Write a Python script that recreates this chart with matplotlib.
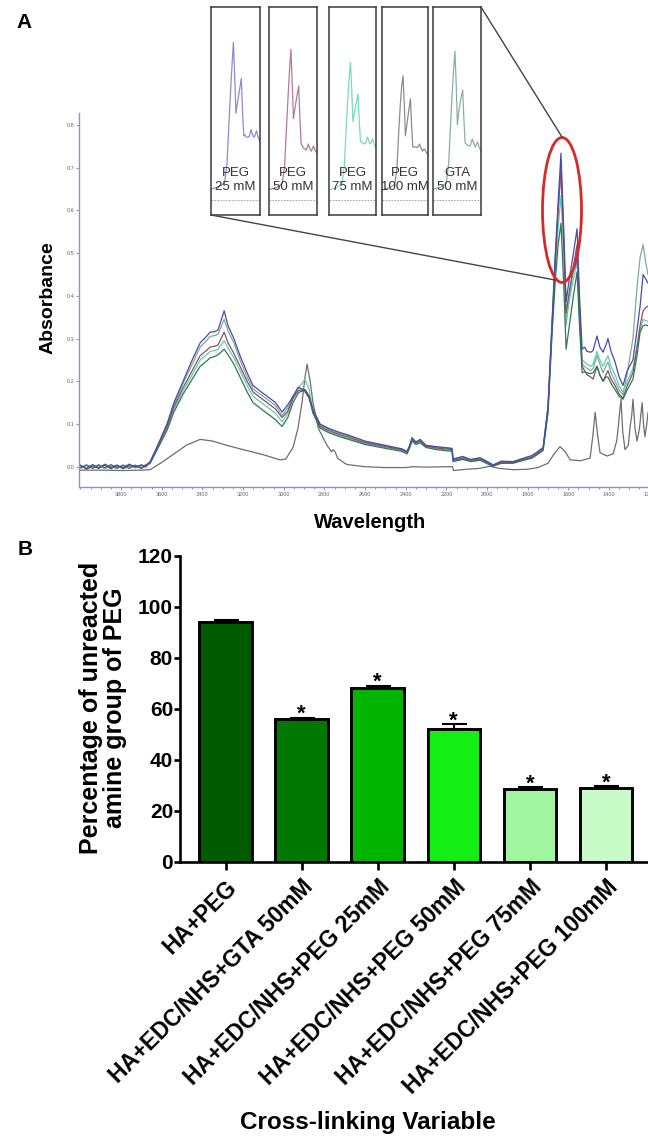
import numpy as np
import matplotlib.pyplot as plt
from matplotlib.patches import Ellipse
from matplotlib.lines import Line2D
from matplotlib.ticker import MultipleLocator, FormatStrFormatter

plt.rcParams['font.family'] = ['Liberation Sans', 'DejaVu Sans']

# ---- panel A: FTIR spectra ----
wn = [4000, 3970, 3940, 3910, 3880, 3850, 3820, 3790, 3760, 3730, 3700, 3680, 3657,
      3620, 3574, 3540, 3495, 3450, 3411, 3380, 3362, 3340, 3323, 3293, 3274, 3245,
      3215, 3180, 3151, 3110, 3082, 3040, 3008, 2980, 2954, 2929, 2910, 2895, 2875,
      2856, 2821, 2780, 2723, 2688, 2600, 2500, 2420, 2393, 2380, 2369, 2350, 2329,
      2300, 2250, 2172, 2167, 2120, 2080, 2034, 1990, 1970, 1930, 1872, 1820, 1780,
      1754, 1724, 1700, 1680, 1665, 1650, 1636, 1622, 1611, 1595, 1575, 1557, 1545,
      1532, 1520, 1508, 1490, 1478, 1459, 1445, 1429, 1415, 1405, 1390, 1370, 1350,
      1331, 1310, 1282, 1262, 1247, 1232, 1220, 1208]

peg25 = [0.002, -0.004, 0.005, -0.003, 0.004, -0.005, 0.003, -0.002, 0.006, -0.001, 0.004, 0.0, 0.012,
         0.05, 0.10, 0.15, 0.20, 0.25, 0.29, 0.305, 0.315, 0.316, 0.32, 0.365, 0.33, 0.30,
         0.26, 0.22, 0.19, 0.175, 0.165, 0.15, 0.128, 0.145, 0.165, 0.186, 0.182, 0.18, 0.165,
         0.134, 0.10, 0.09, 0.08, 0.075, 0.06, 0.05, 0.042, 0.036, 0.05, 0.068, 0.058, 0.064,
         0.05, 0.047, 0.043, 0.018, 0.024, 0.017, 0.021, 0.01, 0.004, 0.013, 0.012, 0.02, 0.026,
         0.034, 0.045, 0.14, 0.34, 0.49, 0.62, 0.734, 0.55, 0.386, 0.44, 0.50, 0.557, 0.40,
         0.275, 0.28, 0.27, 0.268, 0.272, 0.306, 0.28, 0.268, 0.285, 0.30, 0.27, 0.245, 0.21,
         0.19, 0.225, 0.25, 0.32, 0.376, 0.45, 0.44, 0.43]

peg50 = [-0.003, 0.003, -0.004, 0.004, -0.002, 0.005, -0.003, 0.004, -0.004, 0.003, -0.002, 0.004, 0.01,
         0.047, 0.095, 0.14, 0.185, 0.225, 0.26, 0.272, 0.28, 0.282, 0.285, 0.315, 0.29, 0.265,
         0.235, 0.20, 0.175, 0.16, 0.15, 0.135, 0.115, 0.13, 0.16, 0.178, 0.177, 0.175, 0.16,
         0.128, 0.095, 0.085, 0.075, 0.07, 0.056, 0.047, 0.04, 0.034, 0.048, 0.064, 0.056, 0.06,
         0.048, 0.044, 0.04, 0.015, 0.02, 0.015, 0.018, 0.008, 0.003, 0.01, 0.01, 0.017, 0.022,
         0.03, 0.042, 0.135, 0.33, 0.47, 0.60, 0.70, 0.52, 0.36, 0.41, 0.47, 0.52, 0.37,
         0.235, 0.225, 0.215, 0.21, 0.205, 0.235, 0.215, 0.20, 0.215, 0.225, 0.205, 0.19, 0.17,
         0.16, 0.19, 0.22, 0.28, 0.33, 0.365, 0.372, 0.376]

peg75 = [-0.001, 0.005, -0.002, 0.002, -0.005, 0.003, 0.001, -0.004, 0.002, -0.003, 0.005, -0.002, 0.009,
         0.045, 0.09, 0.135, 0.178, 0.215, 0.25, 0.262, 0.27, 0.272, 0.275, 0.295, 0.278, 0.255,
         0.225, 0.19, 0.165, 0.15, 0.14, 0.125, 0.105, 0.125, 0.16, 0.185, 0.195, 0.205, 0.18,
         0.13, 0.093, 0.082, 0.072, 0.067, 0.054, 0.045, 0.038, 0.032, 0.046, 0.062, 0.054, 0.058,
         0.046, 0.042, 0.038, 0.013, 0.018, 0.013, 0.016, 0.006, 0.002, 0.009, 0.009, 0.016, 0.021,
         0.029, 0.04, 0.13, 0.32, 0.45, 0.56, 0.635, 0.49, 0.346, 0.39, 0.44, 0.48, 0.35,
         0.25, 0.245, 0.24, 0.235, 0.24, 0.27, 0.25, 0.235, 0.25, 0.26, 0.235, 0.215, 0.19,
         0.175, 0.20, 0.23, 0.28, 0.32, 0.345, 0.342, 0.34]

peg100 = [0.004, -0.006, 0.002, -0.004, 0.006, -0.002, 0.004, -0.005, 0.003, 0.001, -0.004, 0.003, 0.008,
          0.042, 0.085, 0.128, 0.17, 0.205, 0.235, 0.247, 0.255, 0.258, 0.262, 0.275, 0.262, 0.24,
          0.21, 0.175, 0.15, 0.135, 0.125, 0.11, 0.094, 0.115, 0.15, 0.172, 0.178, 0.18, 0.165,
          0.125, 0.09, 0.08, 0.07, 0.065, 0.052, 0.043, 0.036, 0.03, 0.045, 0.06, 0.052, 0.056,
          0.045, 0.04, 0.036, 0.012, 0.017, 0.012, 0.015, 0.005, 0.001, 0.008, 0.008, 0.015, 0.02,
          0.028, 0.038, 0.125, 0.31, 0.43, 0.52, 0.57, 0.42, 0.275, 0.33, 0.40, 0.456, 0.33,
          0.22, 0.222, 0.22, 0.218, 0.22, 0.235, 0.215, 0.20, 0.21, 0.21, 0.195, 0.18, 0.165,
          0.158, 0.18, 0.205, 0.26, 0.315, 0.33, 0.332, 0.33]

gta50 = [-0.002, 0.004, -0.003, 0.005, -0.004, 0.002, -0.005, 0.003, -0.001, 0.004, -0.003, 0.002, 0.011,
         0.048, 0.098, 0.145, 0.195, 0.24, 0.28, 0.295, 0.305, 0.307, 0.31, 0.345, 0.318, 0.29,
         0.25, 0.21, 0.182, 0.168, 0.158, 0.143, 0.12, 0.138, 0.163, 0.183, 0.18, 0.178, 0.163,
         0.132, 0.098, 0.088, 0.078, 0.073, 0.058, 0.049, 0.041, 0.035, 0.049, 0.066, 0.057, 0.062,
         0.049, 0.046, 0.042, 0.017, 0.023, 0.016, 0.02, 0.009, 0.004, 0.012, 0.011, 0.019, 0.025,
         0.033, 0.044, 0.14, 0.335, 0.48, 0.60, 0.69, 0.51, 0.33, 0.40, 0.46, 0.50, 0.36,
         0.24, 0.235, 0.23, 0.225, 0.23, 0.26, 0.24, 0.22, 0.235, 0.245, 0.22, 0.20, 0.18,
         0.168, 0.22, 0.30, 0.42, 0.49, 0.52, 0.48, 0.45]

ref_wn = [4000, 3900, 3800, 3700, 3657, 3600, 3540, 3480, 3411, 3350, 3280, 3200, 3100, 3018,
          2990, 2954, 2930, 2910, 2895, 2885, 2870, 2856, 2830, 2787, 2765, 2757, 2747, 2735,
          2700, 2688, 2600, 2500, 2400, 2364, 2300, 2200, 2170, 2165, 2100, 2040, 1985, 1940,
          1872, 1800, 1750, 1700, 1670, 1641, 1615, 1591, 1540, 1493, 1480, 1468, 1455, 1444,
          1410, 1380, 1362, 1355, 1341, 1332, 1321, 1305, 1296, 1288, 1282, 1272, 1262, 1250,
          1237, 1230, 1223, 1214, 1208]
ref_abs = [-0.008, -0.008, -0.009, -0.008, -0.007, 0.01, 0.03, 0.05, 0.064, 0.06, 0.05, 0.04, 0.028, 0.016,
           0.018, 0.045, 0.09, 0.15, 0.21, 0.24, 0.20, 0.15, 0.09, 0.05, 0.035, 0.04, 0.035, 0.02,
           0.008, 0.005, 0.0, -0.002, -0.002, 0.0, -0.001, 0.0, 0.0, -0.009, -0.006, -0.004, 0.001, -0.004,
           -0.007, -0.006, -0.002, 0.008, 0.03, 0.047, 0.035, 0.016, 0.014, 0.02, 0.07, 0.127, 0.07, 0.033,
           0.025, 0.03, 0.06, 0.09, 0.158, 0.08, 0.04, 0.05, 0.094, 0.12, 0.158, 0.09, 0.06, 0.09,
           0.15, 0.10, 0.07, 0.10, 0.127]

series = [gta50, peg75, peg50, peg100, peg25]
series_colors = ['#7ea99c', '#5fcfa8', '#8a4c6c', '#2f7a4c', '#4a4aa8']

inset_series = [peg25, peg50, peg75, peg100, gta50]
inset_colors = ['#8c8cd0', '#b07c98', '#7adcb8', '#8c8c8c', '#88b0a6']
inset_labels = ['PEG\n25 mM', 'PEG\n50 mM', 'PEG\n75 mM', 'PEG\n100 mM', 'GTA\n50 mM']
inset_x = [(211, 260), (269, 317), (329, 376), (382, 428), (433, 481)]

# ---- panel B: bar chart ----
bar_labels = ['HA+PEG', 'HA+EDC/NHS+GTA 50mM', 'HA+EDC/NHS+PEG 25mM',
              'HA+EDC/NHS+PEG 50mM', 'HA+EDC/NHS+PEG 75mM', 'HA+EDC/NHS+PEG 100mM']
bar_values = [94.0, 56.0, 68.2, 52.2, 28.6, 29.0]
bar_errors = [0.8, 0.4, 0.8, 1.7, 0.6, 0.5]
significant = [False, True, True, True, True, True]
bar_colors = ['#005a00', '#007800', '#00b400', '#14ee14', '#a2f5a0', '#c8fbc8']

W, H = 648, 1140
fig = plt.figure(figsize=(W / 100, H / 100), dpi=100)


def fx(px):
    return px / W


def fy(py):
    return 1 - py / H


def box(x0, y0, x1, y1):
    return [fx(x0), fy(y1), (x1 - x0) / W, (y1 - y0) / H]


# spectra
axA = fig.add_axes(box(79, 113, 660, 487))
axA.plot(ref_wn, ref_abs, color='#6e6e6e', lw=0.9)
for s, c in zip(series, series_colors):
    axA.plot(wn, s, color=c, lw=0.9)
axA.set_xlim(4007, 1149)
axA.set_ylim(-0.0475, 0.828)
for side in ['top', 'right']:
    axA.spines[side].set_visible(False)
for side in ['left', 'bottom']:
    axA.spines[side].set_color('#8f8fd4')
    axA.spines[side].set_linewidth(1)
axA.set_xticks(np.arange(3800, 1100, -200))
axA.xaxis.set_minor_locator(MultipleLocator(50))
axA.set_yticks(np.arange(0, 0.81, 0.1))
axA.yaxis.set_major_formatter(FormatStrFormatter('%.1f'))
axA.tick_params(which='both', colors='#8f8fd4', labelcolor='#666666', labelsize=4, length=2, width=0.7, pad=1.5)
axA.tick_params(which='minor', length=1.2)

fig.text(fx(24), fy(23), 'A', fontsize=15, fontweight='bold', ha='center', va='center')
fig.text(fx(48), fy(298), 'Absorbance', fontsize=14, fontweight='bold', rotation=90, ha='center', va='center')
fig.text(fx(370), fy(522), 'Wavelength', fontsize=14.5, fontweight='bold', ha='center', va='center')

# zoomed insets
for (x0, x1), s, c, lab in zip(inset_x, inset_series, inset_colors, inset_labels):
    ax = fig.add_axes(box(x0, 7, x1, 215))
    ax.plot(wn, s, color=c, lw=0.9)
    ax.axhline(-0.04, color='#999999', lw=0.6, ls=(0, (2, 1.5)))
    ax.set_xlim(1860, 1370)
    ax.set_ylim(-0.113, 0.907)
    ax.set_xticks([])
    ax.set_yticks([])
    for sp in ax.spines.values():
        sp.set_color('#3a3a3a')
        sp.set_linewidth(1.1)
    ax.text(0.5, 0.168, lab, transform=ax.transAxes, ha='center', va='center',
            fontsize=9.5, color='#333333', linespacing=1.25)

fig.add_artist(Line2D([fx(211), fx(555)], [fy(215), fy(280)], color='#444444', lw=1,
                      transform=fig.transFigure))
fig.add_artist(Line2D([fx(481), fx(562)], [fy(7), fy(137)], color='#444444', lw=1,
                      transform=fig.transFigure))
fig.add_artist(Ellipse((fx(562), fy(210)), 39 / W, 145 / H, transform=fig.transFigure,
                       fill=False, ec='#d42a2a', lw=2))

# bar chart
axB = fig.add_axes(box(180, 555.7, 650, 861.7))
pos = np.arange(len(bar_values))
axB.bar(pos, bar_values, width=0.69, color=bar_colors, edgecolor='black', linewidth=2.1, zorder=2)
axB.errorbar(pos, bar_values, yerr=[[0] * len(bar_errors), bar_errors], fmt='none', ecolor='black',
             elinewidth=1.5, capsize=9, capthick=1.5, zorder=3)
for p, v, e, sig in zip(pos, bar_values, bar_errors, significant):
    if sig:
        axB.annotate('*', xy=(p, v + e), xytext=(0, -1.5), textcoords='offset points',
                     ha='center', va='baseline', fontsize=16, fontweight='bold')
axB.set_xlim(-0.60, 5.58)
axB.set_ylim(0, 120)
axB.set_yticks(np.arange(0, 121, 20))
axB.set_xticks(pos)
axB.set_xticklabels(bar_labels, rotation=45, ha='right', rotation_mode='anchor')
for side in ['top', 'right']:
    axB.spines[side].set_visible(False)
for side in ['left', 'bottom']:
    axB.spines[side].set_linewidth(1.9)
axB.tick_params(axis='y', length=4, width=1.9, pad=1, labelsize=15)
axB.tick_params(axis='x', length=6, width=1.9, pad=4, labelsize=16.4)
for lbl in axB.get_xticklabels() + axB.get_yticklabels():
    lbl.set_fontweight('bold')

fig.text(fx(25), fy(550), 'B', fontsize=15, fontweight='bold', ha='center', va='center')
fig.text(fx(103), fy(708), 'Percentage of unreacted\namine group of PEG', fontsize=18,
         fontweight='bold', rotation=90, ha='center', va='center', multialignment='center',
         linespacing=1.05)
fig.text(fx(368), fy(1123), 'Cross-linking Variable', fontsize=17.5, fontweight='bold',
         ha='center', va='center')

fig.savefig('out.png', dpi=100)
